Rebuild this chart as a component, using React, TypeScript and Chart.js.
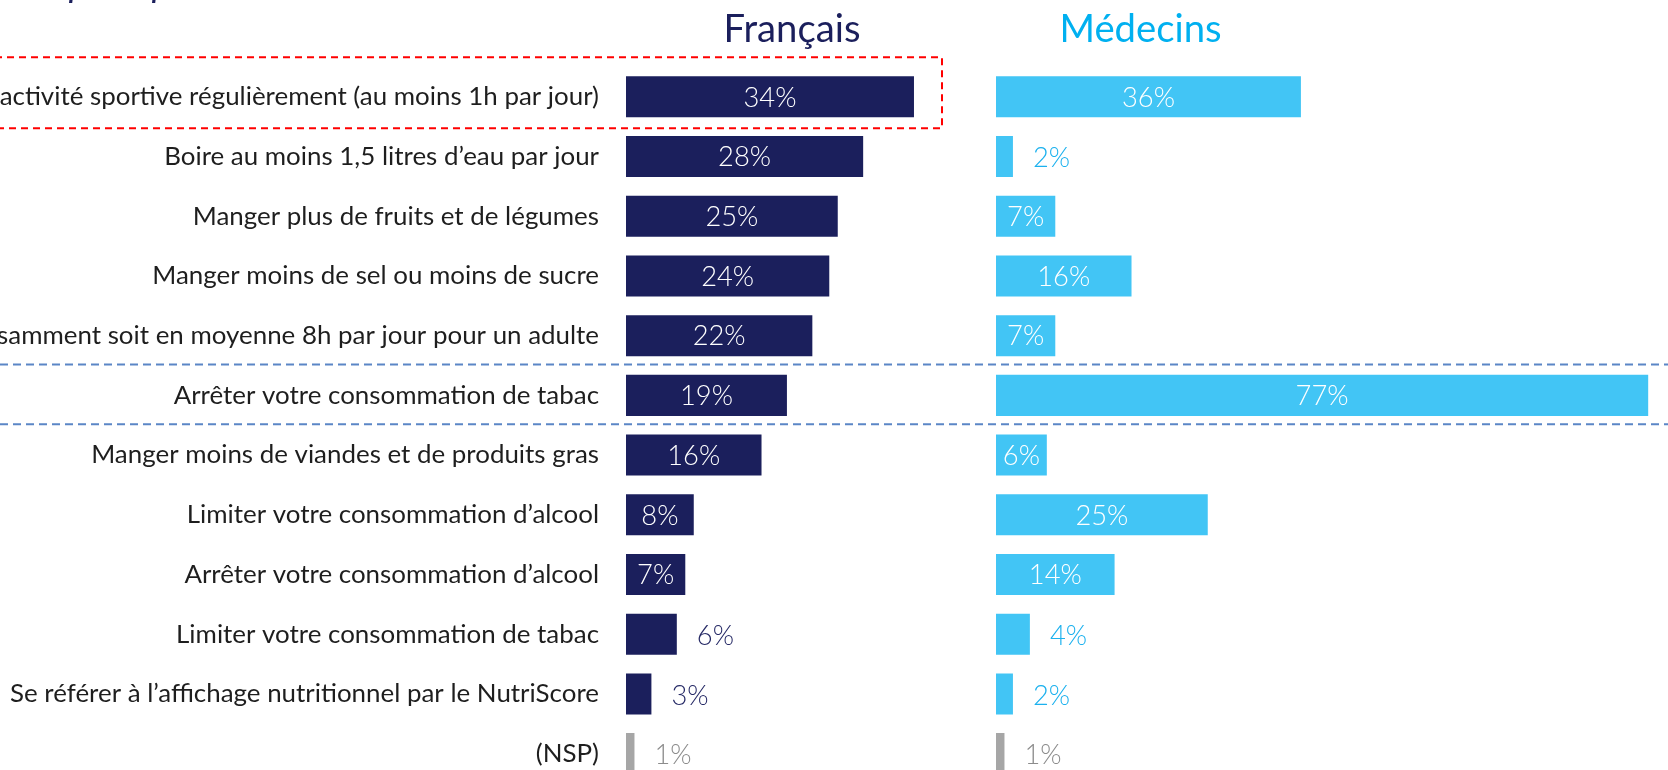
import React, { useEffect, useRef } from 'react';
import { Chart, registerables } from 'chart.js';

Chart.register(...registerables);

// ---------- Data ----------
const categories = [
  'Pratiquer une activité sportive régulièrement (au moins 1h par jour)',
  'Boire au moins 1,5 litres d’eau par jour',
  'Manger plus de fruits et de légumes',
  'Manger moins de sel ou moins de sucre',
  'Dormir suffisamment soit en moyenne 8h par jour pour un adulte',
  'Arrêter votre consommation de tabac',
  'Manger moins de viandes et de produits gras',
  'Limiter votre consommation d’alcool',
  'Arrêter votre consommation d’alcool',
  'Limiter votre consommation de tabac',
  'Se référer à l’affichage nutritionnel par le NutriScore',
  '(NSP)',
];
const francais = [34, 28, 25, 24, 22, 19, 16, 8, 7, 6, 3, 1];
const medecins = [36, 2, 7, 16, 7, 77, 6, 25, 14, 4, 2, 1];
const seriesNames = ['Français', 'Médecins'];
const subtitle = 'réponses possibles';

// ---------- Layout / style ----------
const W = 1668;
const TOP_PAD = 67;
const PLOT_H = 716; // 12 rows
const LABEL_PAD = 27;
const AXIS_W = 626; // where the Français bars start
const MED_ZERO = 996; // where the Médecins bars start
const PX_PER_PCT = 8.47;
const X_F_MAX = (W - AXIS_W) / PX_PER_PCT;
const X_M_MIN = -(MED_ZERO - AXIS_W) / PX_PER_PCT;
const X_M_MAX = X_F_MAX + X_M_MIN;

const NAVY = '#1b1f5c';
const LIGHT = '#42c5f5';
const GREY = '#a6a6a6';
const TITLE_LIGHT = '#00b0f0';
const OUT_NAVY = '#262a66';
const OUT_LIGHT = '#1cb1ee';
const OUT_GREY = '#8c8c8c';
const FAMILY = 'Lato, "Open Sans", sans-serif';
const OUTSIDE_FROM = 9; // rows from here on carry labels outside the bars
const INSIDE_MIN = 5;

function fitSize(text: string, target: number, style: string): number {
  const c = document.createElement('canvas').getContext('2d')!;
  c.font = `${style} 100px ${FAMILY}`;
  const w = c.measureText(text).width || 100;
  return (100 * target) / w;
}

const isNSP = (i: number) => categories[i] === '(NSP)';

export default function App() {
  const ref = useRef<HTMLCanvasElement | null>(null);
  const catSize = fitSize('Boire au moins 1,5 litres d’eau par jour', 435, 'normal');
  // bottom padding Chart.js reserves for the last y label (half line height + padding)
  const H = TOP_PAD + PLOT_H + Math.round((catSize * 1.2) / 2 + LABEL_PAD);

  useEffect(() => {
    document.body.style.margin = '0';
    const titleSize = fitSize('Français', 137, 'normal');
    const valSize = fitSize('34%', 53, '300');
    const subSize = fitSize(subtitle, 206, 'italic bold');

    const decor = {
      id: 'decor',
      afterDraw(chart: any) {
        const ctx = chart.ctx as CanvasRenderingContext2D;
        const y = chart.scales.y;
        const xF = chart.scales.xF;
        const xM = chart.scales.xM;
        ctx.save();
        // subtitle (cut at top)
        ctx.font = `italic bold ${subSize}px ${FAMILY}`;
        ctx.fillStyle = NAVY;
        ctx.textAlign = 'left';
        ctx.textBaseline = 'alphabetic';
        ctx.fillText(subtitle, 47, -1);
        // titles
        ctx.font = `normal ${titleSize}px ${FAMILY}`;
        ctx.textAlign = 'center';
        ctx.fillStyle = NAVY;
        ctx.fillText(seriesNames[0], xF.getPixelForValue(0) + 166, 42);
        ctx.fillStyle = TITLE_LIGHT;
        ctx.fillText(seriesNames[1], xM.getPixelForValue(0) + 144.5, 42);
        // red dashed box
        const r0 = y.getPixelForValue(0);
        const top = r0 - 39.5;
        const bottom = r0 + 31.5;
        const right = xF.getPixelForValue(0) + 316;
        ctx.strokeStyle = '#ff0000';
        ctx.lineWidth = 2;
        ctx.setLineDash([7, 5]);
        ctx.beginPath();
        ctx.moveTo(-5, top);
        ctx.lineTo(right, top);
        ctx.lineTo(right, bottom);
        ctx.lineTo(-5, bottom);
        ctx.stroke();
        // blue dashed separators around "Arrêter votre consommation de tabac"
        const k = 5;
        const lines = [
          (y.getPixelForValue(k - 1) + y.getPixelForValue(k)) / 2 - 1,
          (y.getPixelForValue(k) + y.getPixelForValue(k + 1)) / 2 - 1,
        ];
        ctx.strokeStyle = '#5b86c6';
        ctx.lineWidth = 2;
        ctx.setLineDash([8, 5]);
        lines.forEach((ly) => {
          ctx.beginPath();
          ctx.moveTo(0, ly);
          ctx.lineTo(W, ly);
          ctx.stroke();
        });
        ctx.setLineDash([]);
        // value labels
        ctx.font = `300 ${valSize}px ${FAMILY}`;
        ctx.textBaseline = 'middle';
        chart.data.datasets.forEach((ds: any, di: number) => {
          const meta = chart.getDatasetMeta(di);
          meta.data.forEach((bar: any, i: number) => {
            const v = ds.data[i] as number;
            const p = bar.getProps(['x', 'y', 'base'], true);
            const text = `${v}%`;
            const inside = i < OUTSIDE_FROM && v >= INSIDE_MIN;
            if (inside) {
              ctx.fillStyle = '#ffffff';
              ctx.textAlign = 'center';
              ctx.fillText(text, (p.x + p.base) / 2, p.y + 1);
            } else {
              ctx.fillStyle = isNSP(i) ? OUT_GREY : di === 0 ? OUT_NAVY : OUT_LIGHT;
              ctx.textAlign = 'left';
              ctx.fillText(text, p.x + 20, p.y + 2);
            }
          });
        });
        ctx.restore();
      },
    };

    const barColor = (base: string) => (c: any) => (isNSP(c.dataIndex) ? GREY : base);

    const chart = new Chart(ref.current!, {
      type: 'bar',
      data: {
        labels: categories,
        datasets: [
          {
            label: seriesNames[0],
            data: francais,
            xAxisID: 'xF',
            yAxisID: 'y',
            backgroundColor: barColor(NAVY),
            grouped: false,
            categoryPercentage: 1,
            barPercentage: 0.687,
            borderWidth: 0,
          } as any,
          {
            label: seriesNames[1],
            data: medecins,
            xAxisID: 'xM',
            yAxisID: 'y',
            backgroundColor: barColor(LIGHT),
            grouped: false,
            categoryPercentage: 1,
            barPercentage: 0.687,
            borderWidth: 0,
          } as any,
        ],
      },
      options: {
        indexAxis: 'y',
        animation: false,
        responsive: false,
        devicePixelRatio: 1,
        layout: { padding: { top: TOP_PAD, left: 0, right: 0, bottom: 0 } },
        plugins: {
          legend: { display: false },
          tooltip: { enabled: false },
          title: { display: false },
        },
        scales: {
          xF: {
            type: 'linear',
            axis: 'x',
            position: 'bottom',
            display: false,
            min: 0,
            max: X_F_MAX,
            bounds: 'data',
          } as any,
          xM: {
            type: 'linear',
            axis: 'x',
            position: 'bottom',
            display: false,
            min: X_M_MIN,
            max: X_M_MAX,
            bounds: 'data',
          } as any,
          y: {
            type: 'category',
            position: 'left',
            grid: { display: false, drawTicks: false },
            border: { display: false },
            ticks: {
              autoSkip: false,
              padding: LABEL_PAD,
              color: '#1e1e1e',
              font: { family: FAMILY, size: catSize, lineHeight: 1.2 },
            },
            afterFit(scale: any) {
              scale.width = AXIS_W;
            },
          } as any,
        },
      },
      plugins: [decor],
    });
    return () => chart.destroy();
  }, []);

  return (
    <div
      style={{
        position: 'fixed',
        left: 0,
        top: 0,
        width: W,
        height: 770,
        overflow: 'hidden',
        background: '#ffffff',
      }}
    >
      <canvas ref={ref} width={W} height={H} style={{ display: 'block' }} />
    </div>
  );
}
